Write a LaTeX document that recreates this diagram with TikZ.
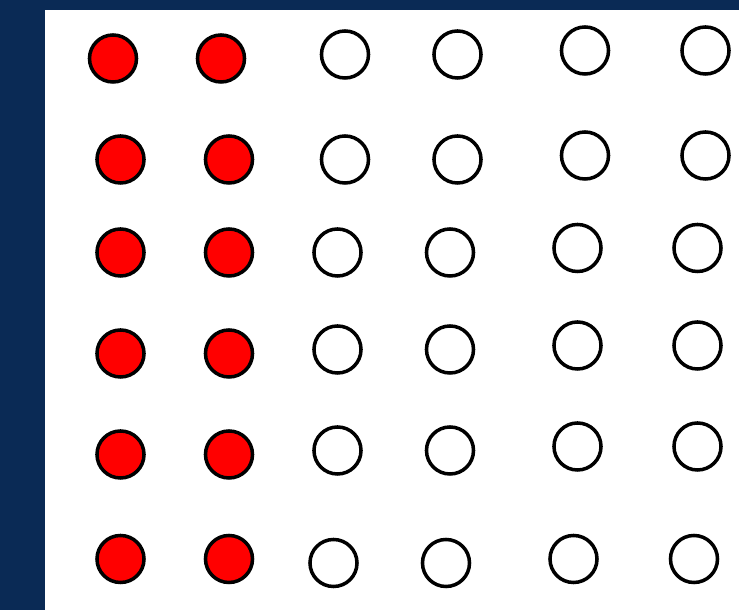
\documentclass[tikz,border=0pt]{standalone}
\usepackage{xcolor}
\usepackage{tikz}
\definecolor{navy}{HTML}{0A2A55}
\tikzset{
  dot/.style={circle,draw=black,line width=1pt,minimum size=0.47cm,inner sep=0pt},
  reddot/.style={dot,fill=red},
  emptydot/.style={dot,fill=white}
}

\begin{document}
\begin{tikzpicture}[x=0.01cm,y=-0.01cm]
  \fill[navy] (0,0) rectangle (739,610);
  \fill[white] (45,10) rectangle (739,610);
  % row 1
  \node[reddot] (r1c1) at (113,58.5) {};
  \node[reddot] (r1c2) at (221,58.5) {};
  \node[emptydot] (r1c3) at (345,54.5) {};
  \node[emptydot] (r1c4) at (457.5,54.5) {};
  \node[emptydot] (r1c5) at (585,50.5) {};
  \node[emptydot] (r1c6) at (705.5,50.5) {};
  % row 2
  \node[reddot] (r2c1) at (120.5,159.5) {};
  \node[reddot] (r2c2) at (229,159.5) {};
  \node[emptydot] (r2c3) at (345,159.5) {};
  \node[emptydot] (r2c4) at (457.5,159.5) {};
  \node[emptydot] (r2c5) at (585,155.5) {};
  \node[emptydot] (r2c6) at (705.5,155.5) {};
  % row 3
  \node[reddot] (r3c1) at (120.5,252.5) {};
  \node[reddot] (r3c2) at (229,252.5) {};
  \node[emptydot] (r3c3) at (337.5,252.5) {};
  \node[emptydot] (r3c4) at (450,252.5) {};
  \node[emptydot] (r3c5) at (577.5,248) {};
  \node[emptydot] (r3c6) at (697.5,248) {};
  % row 4
  \node[reddot] (r4c1) at (120.5,353.5) {};
  \node[reddot] (r4c2) at (229,353.5) {};
  \node[emptydot] (r4c3) at (337.5,349.5) {};
  \node[emptydot] (r4c4) at (450,349.5) {};
  \node[emptydot] (r4c5) at (577.5,345.5) {};
  \node[emptydot] (r4c6) at (697.5,345.5) {};
  % row 5
  \node[reddot] (r5c1) at (120.5,454.5) {};
  \node[reddot] (r5c2) at (229,454.5) {};
  \node[emptydot] (r5c3) at (337.5,450.5) {};
  \node[emptydot] (r5c4) at (450,450.5) {};
  \node[emptydot] (r5c5) at (577.5,446.5) {};
  \node[emptydot] (r5c6) at (697.5,446.5) {};
  % row 6
  \node[reddot] (r6c1) at (120.5,559) {};
  \node[reddot] (r6c2) at (229,559) {};
  \node[emptydot] (r6c3) at (333.5,563) {};
  \node[emptydot] (r6c4) at (446,563) {};
  \node[emptydot] (r6c5) at (573.5,559) {};
  \node[emptydot] (r6c6) at (694,559) {};
\end{tikzpicture}
\end{document}
